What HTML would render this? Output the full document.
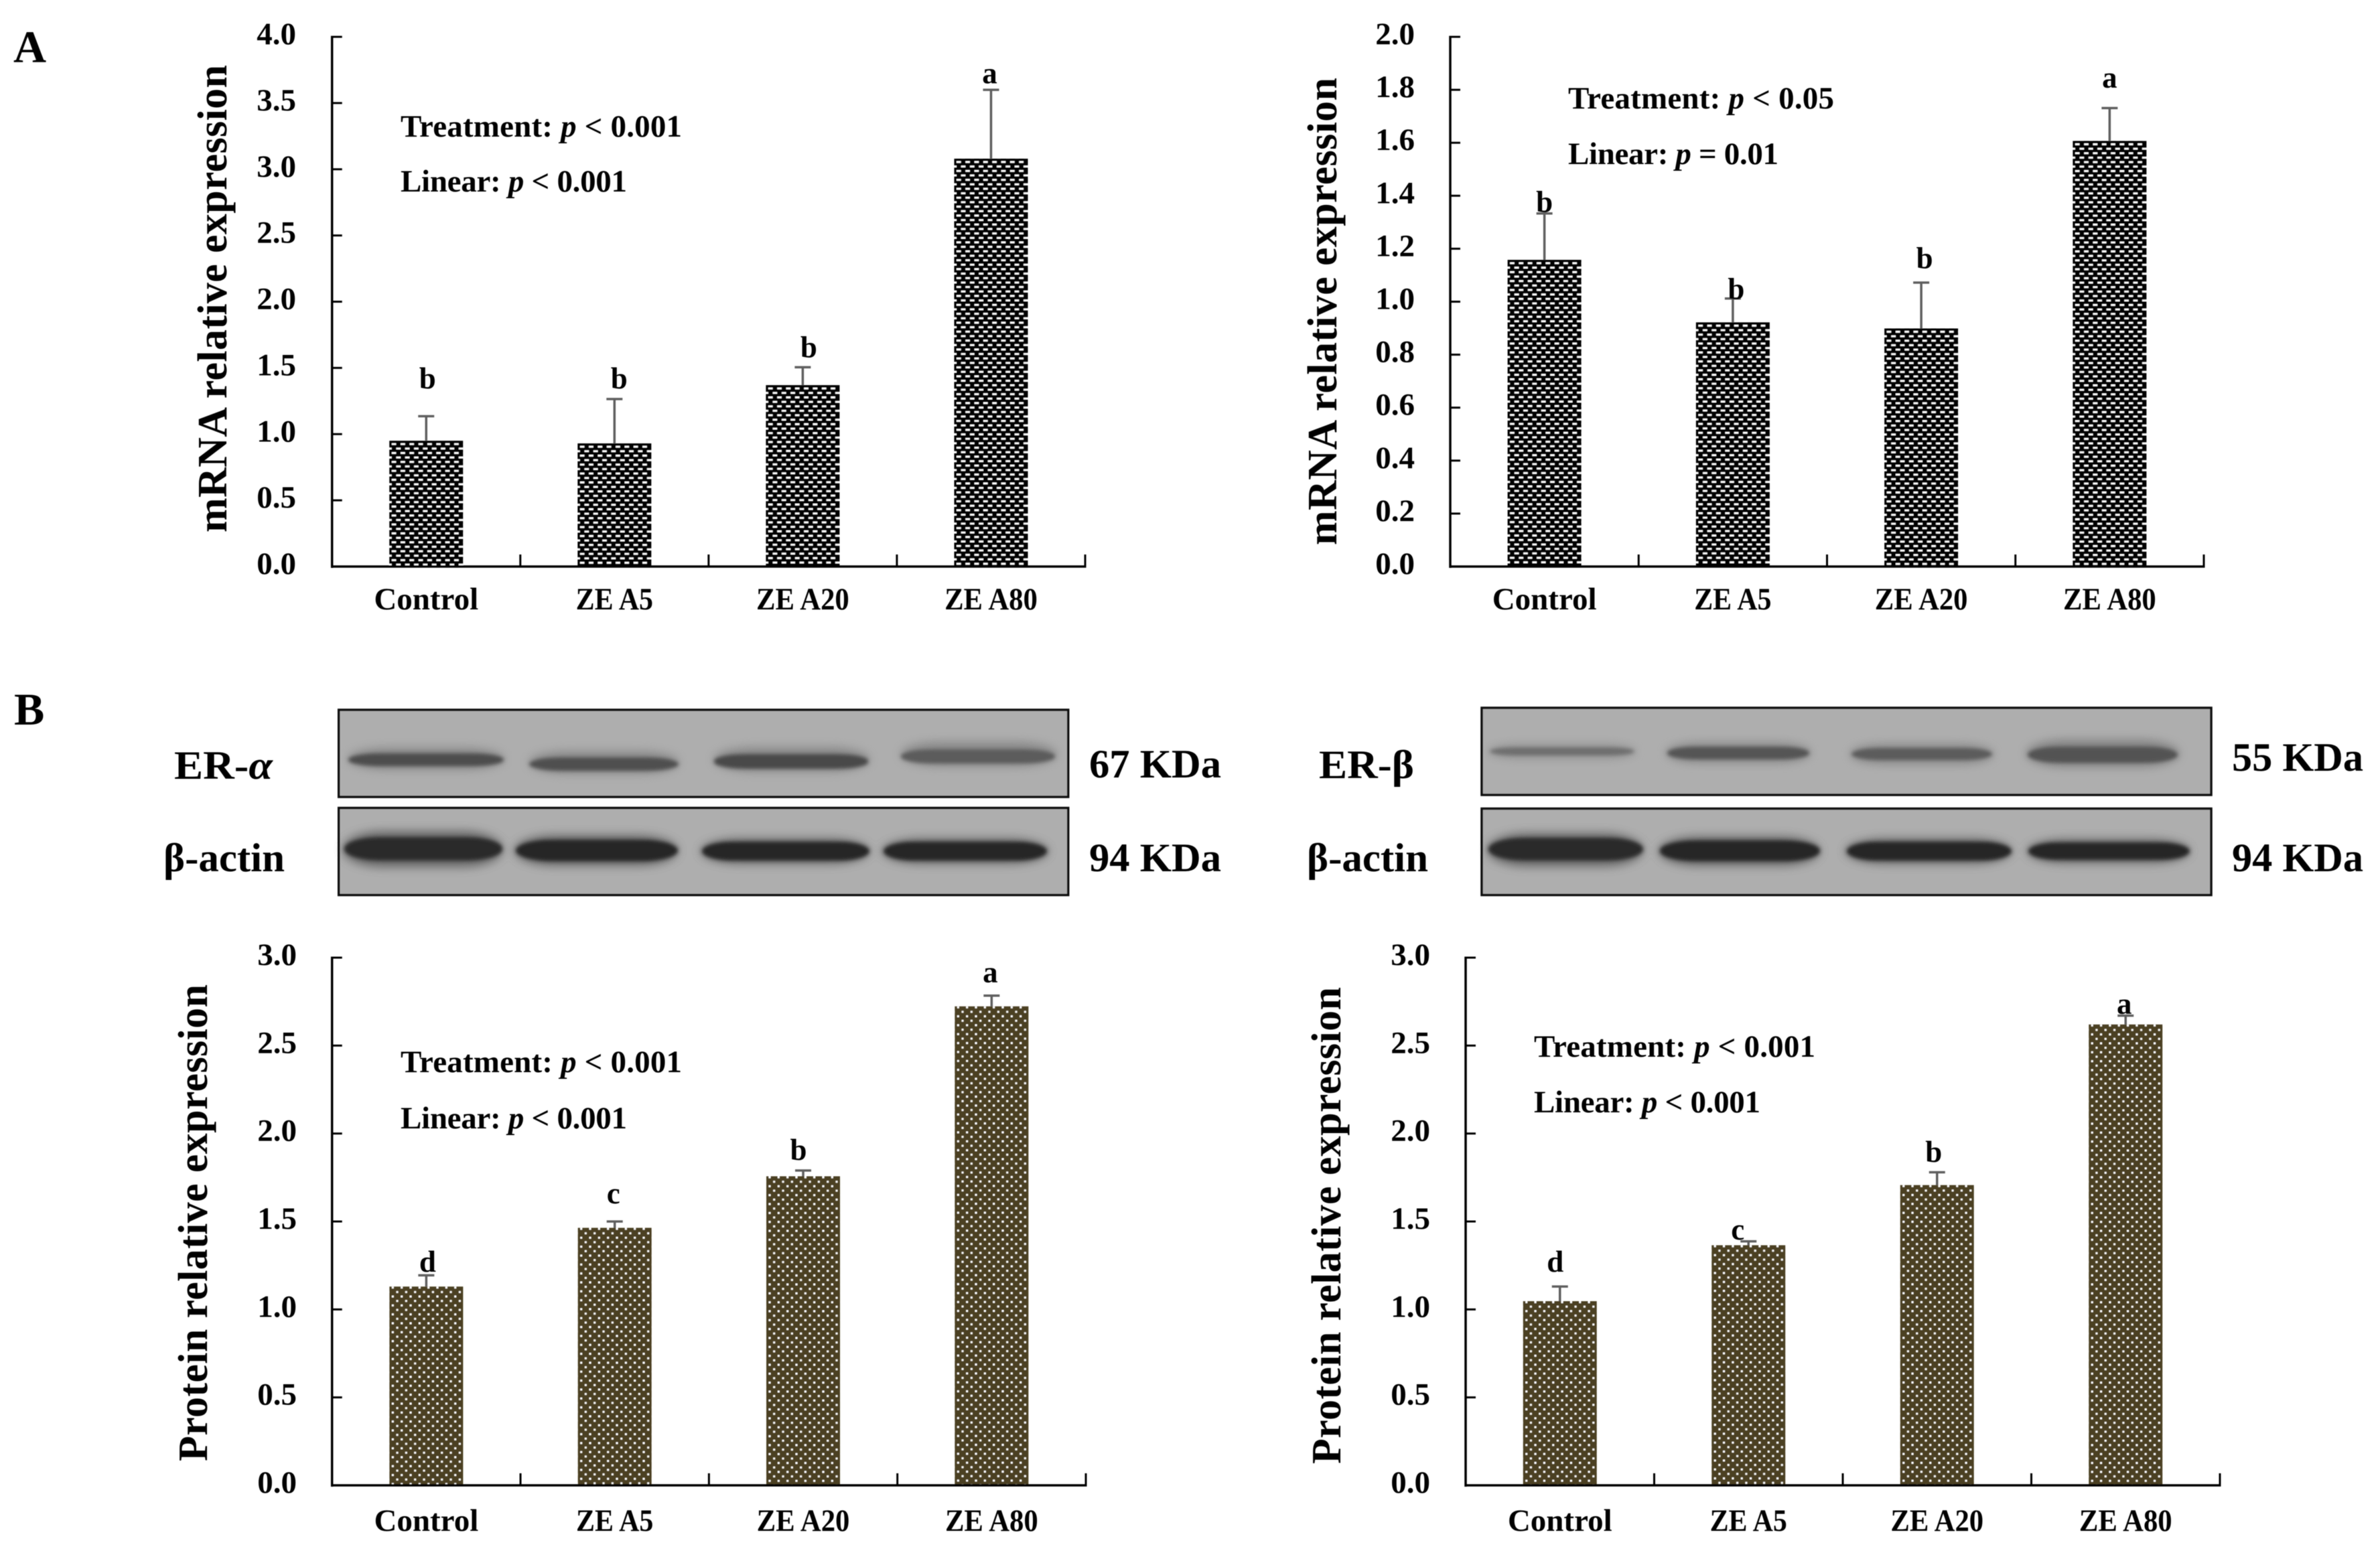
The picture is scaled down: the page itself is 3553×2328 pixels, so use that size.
<!DOCTYPE html>
<html lang="en">
<head>
<meta charset="utf-8">
<title>ZEA receptor expression figure</title>
<style>
html,body{margin:0;padding:0;background:#fff;width:3553px;height:2328px;overflow:hidden}
svg{display:block}
text{font-family:"Liberation Serif","Noto Serif CJK SC",serif;font-weight:bold;fill:#000}
.t47{font-size:47px}
.t60{font-size:60px}
.panel{font-size:68px}
.title{font-size:62px}
.halo{filter:url(#blurWide)}
.core{filter:url(#blurNarrow)}
</style>
</head>
<body>
<svg id="figure" xmlns="http://www.w3.org/2000/svg" width="3553" height="2328" viewBox="0 0 3553 2328">
<defs>
<filter id="blurWide" x="-20%" y="-100%" width="140%" height="300%"><feGaussianBlur stdDeviation="7"/></filter>
<filter id="blurNarrow" x="-20%" y="-100%" width="140%" height="300%"><feGaussianBlur stdDeviation="3"/></filter>
<filter id="soft" x="-2%" y="-2%" width="104%" height="104%"><feGaussianBlur stdDeviation="0.6"/></filter>
</defs>
<rect width="3553" height="2328" fill="#fff"/>

<g id="content" filter="url(#soft)">
<text class="panel" x="20" y="93">A</text>
<text class="panel" x="21" y="1082">B</text>

<g>
<rect x="505.7" y="1060" width="1089" height="130" fill="#aeaeae" stroke="#0a0a0a" stroke-width="3.5"/>
<g opacity=".75" class="halo"><rect x="520" y="1117" width="232" height="32" rx="60" ry="16" fill="#7a7a7a"/><rect x="790" y="1122" width="223" height="33" rx="60" ry="16" fill="#7a7a7a"/><rect x="1066" y="1116" width="232" height="36" rx="60" ry="18" fill="#7a7a7a"/><rect x="1345" y="1108" width="232" height="36" rx="60" ry="18" fill="#7a7a7a"/></g>
<g class="core"><rect x="520" y="1125" width="232" height="19" rx="50" ry="9" fill="#4e4e4e"/><rect x="790" y="1131" width="223" height="20" rx="50" ry="10" fill="#505050"/><rect x="1066" y="1126" width="230" height="22" rx="50" ry="10" fill="#4a4a4a"/><rect x="1345" y="1119" width="230" height="21" rx="50" ry="10" fill="#5c5c5c"/></g>
</g>
<g>
<rect x="505.7" y="1206.5" width="1089" height="130" fill="#aeaeae" stroke="#0a0a0a" stroke-width="3.5"/>
<g opacity=".8" class="halo"><rect x="512" y="1241" width="238" height="54" rx="60" ry="26" fill="#555"/><rect x="768" y="1247" width="244" height="46" rx="60" ry="23" fill="#555"/><rect x="1046" y="1252" width="252" height="38" rx="60" ry="19" fill="#555"/><rect x="1317" y="1252" width="248" height="38" rx="60" ry="19" fill="#555"/></g>
<g class="core"><rect x="514" y="1250" width="236" height="35" rx="55" ry="17" fill="#2a2a2a"/><rect x="770" y="1254" width="242" height="32" rx="55" ry="16" fill="#262626"/><rect x="1048" y="1257" width="250" height="28" rx="45" ry="14" fill="#282828"/><rect x="1319" y="1257" width="244" height="28" rx="45" ry="14" fill="#282828"/></g>
</g>
<g>
<rect x="2212" y="1057" width="1089" height="130" fill="#aeaeae" stroke="#0a0a0a" stroke-width="3.5"/>
<g opacity=".7" class="halo"><rect x="2222" y="1111" width="220" height="22" rx="50" ry="11" fill="#888"/><rect x="2487" y="1109" width="216" height="30" rx="50" ry="15" fill="#7a7a7a"/><rect x="2762" y="1111" width="214" height="30" rx="50" ry="15" fill="#7a7a7a"/><rect x="3025" y="1105" width="228" height="40" rx="60" ry="20" fill="#6e6e6e"/></g>
<g class="core"><rect x="2224" y="1116" width="216" height="12" rx="40" ry="6" fill="#6e6e6e"/><rect x="2489" y="1115" width="212" height="19" rx="45" ry="9" fill="#555"/><rect x="2764" y="1117" width="210" height="18" rx="45" ry="9" fill="#5c5c5c"/><rect x="3027" y="1115" width="224" height="24" rx="50" ry="12" fill="#525252"/></g>
</g>
<g>
<rect x="2212" y="1207.5" width="1089" height="129" fill="#aeaeae" stroke="#0a0a0a" stroke-width="3.5"/>
<g opacity=".8" class="halo"><rect x="2220" y="1244" width="233" height="50" rx="60" ry="25" fill="#555"/><rect x="2476" y="1249" width="241" height="44" rx="60" ry="22" fill="#555"/><rect x="2755" y="1252" width="248" height="38" rx="60" ry="19" fill="#555"/><rect x="3026" y="1253" width="243" height="36" rx="60" ry="18" fill="#555"/></g>
<g class="core"><rect x="2222" y="1251" width="231" height="34" rx="55" ry="17" fill="#2a2a2a"/><rect x="2478" y="1255" width="239" height="31" rx="55" ry="15" fill="#282828"/><rect x="2757" y="1257" width="246" height="28" rx="45" ry="14" fill="#282828"/><rect x="3028" y="1258" width="241" height="26" rx="45" ry="13" fill="#282828"/></g>
</g>

<text class="t60" x="260" y="1163" textLength="147" lengthAdjust="spacingAndGlyphs">ER-<tspan font-style="italic">α</tspan></text>
<text class="t60" x="244" y="1301" textLength="181" lengthAdjust="spacingAndGlyphs">β-actin</text>
<text class="t60" x="1626" y="1161" textLength="197" lengthAdjust="spacingAndGlyphs">67 KDa</text>
<text class="t60" x="1626" y="1301" textLength="197" lengthAdjust="spacingAndGlyphs">94 KDa</text>
<text class="t60" x="1969" y="1162" textLength="142" lengthAdjust="spacingAndGlyphs">ER-β</text>
<text class="t60" x="1951" y="1301" textLength="181" lengthAdjust="spacingAndGlyphs">β-actin</text>
<text class="t60" x="3332" y="1151" textLength="196" lengthAdjust="spacingAndGlyphs">55 KDa</text>
<text class="t60" x="3332" y="1301" textLength="196" lengthAdjust="spacingAndGlyphs">94 KDa</text>

<text class="t47" x="598" y="204" textLength="420" lengthAdjust="spacing">Treatment: <tspan font-style="italic">p</tspan> &lt; 0.001</text>
<text class="t47" x="598" y="286" textLength="338" lengthAdjust="spacing">Linear: <tspan font-style="italic">p</tspan> &lt; 0.001</text>
<text class="t47" x="2341" y="162" textLength="397" lengthAdjust="spacing">Treatment: <tspan font-style="italic">p</tspan> &lt; 0.05</text>
<text class="t47" x="2341" y="245" textLength="314" lengthAdjust="spacing">Linear: <tspan font-style="italic">p</tspan> = 0.01</text>
<text class="t47" x="598" y="1601" textLength="420" lengthAdjust="spacing">Treatment: <tspan font-style="italic">p</tspan> &lt; 0.001</text>
<text class="t47" x="598" y="1685" textLength="338" lengthAdjust="spacing">Linear: <tspan font-style="italic">p</tspan> &lt; 0.001</text>
<text class="t47" x="2290" y="1578" textLength="420" lengthAdjust="spacing">Treatment: <tspan font-style="italic">p</tspan> &lt; 0.001</text>
<text class="t47" x="2290" y="1661" textLength="338" lengthAdjust="spacing">Linear: <tspan font-style="italic">p</tspan> &lt; 0.001</text>

<text class="title" text-anchor="middle" textLength="698" transform="translate(338 446) rotate(-90)">mRNA relative expression</text>
<text class="title" text-anchor="middle" textLength="698" transform="translate(1995 465) rotate(-90)">mRNA relative expression</text>
<text class="title" text-anchor="middle" textLength="712" transform="translate(309 1826) rotate(-90)">Protein relative expression</text>
<text class="title" text-anchor="middle" textLength="712" transform="translate(2001 1830) rotate(-90)">Protein relative expression</text>

<g id="chart-a-left"></g>
<g id="chart-a-right"></g>
<g id="chart-b-left"></g>
<g id="chart-b-right"></g>
</g>
</svg>

<script>
const categories = ['Control', 'ZE A5', 'ZE A20', 'ZE A80'];

const aLeftTicks = ['0.0', '0.5', '1.0', '1.5', '2.0', '2.5', '3.0', '3.5', '4.0'];
const aLeftValues = [0.95, 0.93, 1.37, 3.08];
const aLeftErrors = [0.185, 0.335, 0.135, 0.52];
const aLeftLetters = ['b', 'b', 'b', 'a'];
const aLeftLetterLevels = [1.415, 1.415, 1.65, 3.72];

const aRightTicks = ['0.0', '0.2', '0.4', '0.6', '0.8', '1.0', '1.2', '1.4', '1.6', '1.8', '2.0'];
const aRightValues = [1.158, 0.922, 0.899, 1.607];
const aRightErrors = [0.175, 0.09, 0.173, 0.124];
const aRightLetters = ['b', 'b', 'b', 'a'];
const aRightLetterLevels = [1.374, 1.045, 1.162, 1.843];

const bLeftTicks = ['0.0', '0.5', '1.0', '1.5', '2.0', '2.5', '3.0'];
const bLeftValues = [1.13, 1.464, 1.757, 2.723];
const bLeftErrors = [0.064, 0.036, 0.033, 0.061];
const bLeftLetters = ['d', 'c', 'b', 'a'];
const bLeftLetterLevels = [1.268, 1.656, 1.903, 2.912];

const bRightTicks = ['0.0', '0.5', '1.0', '1.5', '2.0', '2.5', '3.0'];
const bRightValues = [1.047, 1.365, 1.707, 2.62];
const bRightErrors = [0.083, 0.022, 0.073, 0.05];
const bRightLetters = ['d', 'c', 'b', 'a'];
const bRightLetterLevels = [1.268, 1.45, 1.892, 2.733];

const NS = 'http://www.w3.org/2000/svg';

function make(tag, attrs, parent) {
  const node = document.createElementNS(NS, tag);
  for (const key in attrs) node.setAttribute(key, attrs[key]);
  parent.appendChild(node);
  return node;
}

function drawChart(opts) {
  const group = document.getElementById(opts.id);
  const defs = document.querySelector('#figure defs');
  const tickMax = parseFloat(opts.ticks[opts.ticks.length - 1]);
  const yScale = v => opts.y0 - (v / tickMax) * (opts.y0 - opts.y1);
  const band = (opts.x1 - opts.x0) / opts.categories.length;
  const xScale = i => opts.x0 + band * (i + 0.5);
  const barWidth = 110;

  opts.values.forEach(function (value, i) {
    const cx = xScale(i);
    const left = cx - barWidth / 2;
    const top = yScale(value);
    const errTop = yScale(value + opts.errors[i]);

    const stem = make('line', { x1: cx, x2: cx, y1: errTop, y2: top, stroke: '#5f5f5f', 'stroke-width': 3.5 }, group);
    
    
    const cap = make('line', { x1: cx - 12, x2: cx + 12, y1: errTop, y2: errTop, stroke: '#5f5f5f', 'stroke-width': 3.5 }, group);
    
    

    const patId = opts.id + '-fill-' + i;
    const pat = make('pattern', { id: patId, patternUnits: 'userSpaceOnUse', x: left + 3.5, y: top + opts.patternOffset, width: 13.333, height: 13.333 }, defs);
    make('rect', { width: 13.333, height: 13.333, fill: opts.color }, pat);
    make('rect', { x: 0, y: 0, width: opts.dotW, height: opts.dotH, fill: '#fff' }, pat);
    make('rect', { x: 6.667, y: 6.667, width: opts.dotW, height: opts.dotH, fill: '#fff' }, pat);

    const bar = make('rect', { x: left, y: top, width: barWidth, height: opts.y0 - top, fill: 'url(#' + patId + ')' }, group);
    
    

    const letter = make('text', { x: cx + opts.letterNudge[i], y: yScale(opts.letterLevels[i]) + 14, 'text-anchor': 'middle', 'font-size': 45 }, group);
    letter.textContent = opts.letters[i];
    
    

    const label = make('text', { x: cx, y: opts.y0 + opts.labelDrop, 'text-anchor': 'middle', class: 't47' }, group);
    label.textContent = opts.categories[i];
    
    
    if (opts.categories[i].indexOf(' ') >= 0) {
      label.setAttribute('textLength', label.getComputedTextLength() - 14);
      label.setAttribute('lengthAdjust', 'spacingAndGlyphs');
    }

    const xTick = make('line', { x1: opts.x0 + band * (i + 1), x2: opts.x0 + band * (i + 1), y1: opts.y0 - 18, y2: opts.y0, stroke: '#000', 'stroke-width': 3 }, group);
    
    
  });

  const yAxis = make('line', { x1: opts.x0, x2: opts.x0, y1: opts.y1 - 1.5, y2: opts.y0 + 2, stroke: '#000', 'stroke-width': 3.5 }, group);
  
  
  const xAxis = make('line', { x1: opts.x0, x2: opts.x1 + 1.5, y1: opts.y0, y2: opts.y0, stroke: '#000', 'stroke-width': 3.5 }, group);
  
  

  opts.ticks.forEach(function (tick) {
    const y = yScale(parseFloat(tick));
    const mark = make('line', { x1: opts.x0, x2: opts.x0 + 15, y1: y, y2: y, stroke: '#000', 'stroke-width': 3 }, group);
    
    
    const label = make('text', { x: opts.labelRight, y: y + 11, 'text-anchor': 'end', class: 't47' }, group);
    label.textContent = tick;
    
    
  });
}

drawChart({ id: 'chart-a-left', categories: categories, ticks: aLeftTicks, values: aLeftValues, errors: aLeftErrors, letters: aLeftLetters, letterLevels: aLeftLetterLevels, letterNudge: [2, 7, 9, -2], x0: 495.7, x1: 1620, y0: 846, y1: 55, labelRight: 442, labelDrop: 64, color: '#000', dotW: 6.667, dotH: 2.8, patternOffset: 3.6 });
drawChart({ id: 'chart-a-right', categories: categories, ticks: aRightTicks, values: aRightValues, errors: aRightErrors, letters: aRightLetters, letterLevels: aRightLetterLevels, letterNudge: [0, 5, 5, 0], x0: 2165, x1: 3290, y0: 846, y1: 55, labelRight: 2112, labelDrop: 64, color: '#000', dotW: 6.667, dotH: 2.8, patternOffset: 3.6 });
drawChart({ id: 'chart-b-left', categories: categories, ticks: bLeftTicks, values: bLeftValues, errors: bLeftErrors, letters: bLeftLetters, letterLevels: bLeftLetterLevels, letterNudge: [2, -2, -7, -2], x0: 495.7, x1: 1621, y0: 2218, y1: 1430, labelRight: 443, labelDrop: 68, color: '#4b4024', dotW: 3, dotH: 3, patternOffset: 0 });
drawChart({ id: 'chart-b-right', categories: categories, ticks: bRightTicks, values: bRightValues, errors: bRightErrors, letters: bRightLetters, letterLevels: bRightLetterLevels, letterNudge: [-7, -16, -5, -2], x0: 2188, x1: 3314, y0: 2218, y1: 1430, labelRight: 2135, labelDrop: 68, color: '#4b4024', dotW: 3, dotH: 3, patternOffset: 0 });
</script>
</body>
</html>
